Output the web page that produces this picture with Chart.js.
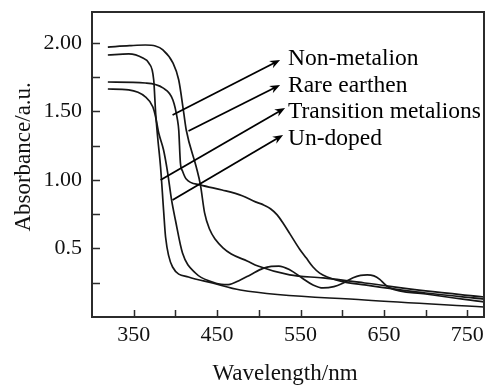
<!DOCTYPE html>
<html>
<head>
<meta charset="utf-8">
<script src="https://cdn.jsdelivr.net/npm/chart.js@4.4.0/dist/chart.umd.min.js"></script>
<style>
html, body { margin: 0; padding: 0; background: #fff; }
canvas { display: block; }
</style>
</head>
<body>
<canvas id="chartSpectre" width="489" height="385"></canvas>
<script>
// absorbance spectra (wavelength in nm, absorbance in a.u.)
var seriesNames = ["Non-metalion", "Rare earthen", "Transition metalions", "Un-doped"];

var nonMetalLambda = [319, 364, 385, 397, 402.5, 404, 406, 408.5, 413, 430, 456, 480, 496, 505, 514, 522, 529, 537.5, 549, 557, 565, 573, 582, 603, 627, 700, 770];
var nonMetalAbs = [1.715, 1.708, 1.672, 1.584, 1.438, 1.365, 1.124, 1.066, 1.007, 0.964, 0.927, 0.885, 0.84, 0.82, 0.79, 0.745, 0.686, 0.605, 0.495, 0.43, 0.365, 0.32, 0.292, 0.255, 0.234, 0.175, 0.131];

var rareLambda = [319, 345, 364, 376, 385, 397, 404, 410, 413, 425, 430, 435, 441, 448, 457, 467, 486, 499, 537, 577, 627, 700, 770];
var rareAbs = [1.97, 1.98, 1.985, 1.978, 1.95, 1.855, 1.73, 1.49, 1.365, 1.095, 0.964, 0.76, 0.64, 0.565, 0.505, 0.46, 0.409, 0.372, 0.307, 0.285, 0.248, 0.19, 0.146];

var transLambda = [319, 344, 361, 368, 374, 376.3, 378.7, 382.2, 385.8, 388.2, 396.6, 415.7, 444.3, 477.8, 627, 770];
var transAbs = [1.912, 1.92, 1.89, 1.854, 1.73, 1.489, 1.314, 1.095, 0.781, 0.584, 0.365, 0.292, 0.248, 0.197, 0.124, 0.073];

var undopedLambda = [319, 344, 364, 373, 376.3, 380, 385.8, 390.6, 395.4, 400, 408.5, 424, 444.3, 455, 463.4, 477.8, 489.7, 505, 515, 524, 537.5, 551.8, 565, 577, 590, 600, 613, 622, 630, 638, 645, 650, 656, 700, 770];
var undopedAbs = [1.664, 1.657, 1.606, 1.533, 1.46, 1.343, 1.219, 1.058, 0.854, 0.708, 0.467, 0.321, 0.255, 0.238, 0.236, 0.27, 0.307, 0.355, 0.37, 0.372, 0.343, 0.285, 0.234, 0.212, 0.222, 0.245, 0.287, 0.304, 0.308, 0.3, 0.275, 0.245, 0.215, 0.168, 0.11];

var xTickLabels = [350, 450, 550, 650, 750];
var yTickValues = [0.5, 1, 1.5, 2];
var yTickLabels = ["0.5", "1.00", "1.50", "2.00"];

// arrows from each curve to its name (data units)
var arrowFrom = [[396.6, 1.474], [415.7, 1.358], [382.2, 1.0], [396.6, 0.854]];
var arrowTo = [[525.5, 1.876], [525.5, 1.693], [531.5, 1.526], [529.1, 1.328]];
var nameX = 535;
var nameY = [1.839, 1.642, 1.453, 1.255];

var serif = '"Liberation Serif", "Times New Roman", serif';

function toPoints(xs, ys) {
    var pts = [];
    for (var i = 0; i < xs.length; i++) {
        pts.push({ x: xs[i], y: ys[i] });
    }
    return pts;
}

var boxAndTicks = {
    id: 'boxAndTicks',
    afterDatasetsDraw: function (chart) {
        var ctx = chart.ctx, a = chart.chartArea;
        var sx = chart.scales.x, sy = chart.scales.y;
        ctx.save();
        ctx.strokeStyle = '#2b2b2b';
        ctx.lineWidth = 2;
        ctx.strokeRect(a.left, a.top, a.right - a.left, a.bottom - a.top);
        ctx.lineWidth = 1.5;
        ctx.beginPath();
        sx.ticks.forEach(function (t) {
            var px = Math.round(sx.getPixelForValue(t.value)) + 0.5;
            if (px <= a.left + 2 || px >= a.right - 2) return;
            ctx.moveTo(px, a.bottom);
            ctx.lineTo(px, a.bottom - 7);
        });
        sy.ticks.forEach(function (t) {
            var py = Math.round(sy.getPixelForValue(t.value)) + 0.5;
            if (py <= a.top + 2 || py >= a.bottom - 2) return;
            ctx.moveTo(a.left, py);
            ctx.lineTo(a.left + 8, py);
        });
        ctx.stroke();

        // axis titles
        ctx.fillStyle = '#111';
        ctx.font = '23px ' + serif;
        ctx.textAlign = 'center';
        ctx.textBaseline = 'alphabetic';
        ctx.fillText('Wavelength/nm', (a.left + a.right) / 2 - 3, 380);
        ctx.translate(24, a.top + (a.bottom - a.top) * 0.475);
        ctx.rotate(-Math.PI / 2);
        ctx.textBaseline = 'middle';
        ctx.fillText('Absorbance/a.u.', 0, 0);
        ctx.restore();
    }
};

var arrowsAndNames = {
    id: 'arrowsAndNames',
    afterDatasetsDraw: function (chart) {
        var ctx = chart.ctx;
        var sx = chart.scales.x, sy = chart.scales.y;
        ctx.save();
        ctx.strokeStyle = '#000';
        ctx.fillStyle = '#000';
        ctx.lineWidth = 1.8;
        ctx.font = '23.5px ' + serif;
        ctx.textAlign = 'left';
        ctx.textBaseline = 'alphabetic';
        for (var i = 0; i < seriesNames.length; i++) {
            var x0 = sx.getPixelForValue(arrowFrom[i][0]), y0 = sy.getPixelForValue(arrowFrom[i][1]);
            var x1 = sx.getPixelForValue(arrowTo[i][0]), y1 = sy.getPixelForValue(arrowTo[i][1]);
            var ang = Math.atan2(y1 - y0, x1 - x0);
            ctx.beginPath();
            ctx.moveTo(x0, y0);
            ctx.lineTo(x1 - Math.cos(ang) * 5, y1 - Math.sin(ang) * 5);
            ctx.stroke();
            ctx.beginPath();
            ctx.moveTo(x1, y1);
            ctx.lineTo(x1 - 11 * Math.cos(ang - 0.38), y1 - 11 * Math.sin(ang - 0.38));
            ctx.lineTo(x1 - 7 * Math.cos(ang), y1 - 7 * Math.sin(ang));
            ctx.lineTo(x1 - 11 * Math.cos(ang + 0.38), y1 - 11 * Math.sin(ang + 0.38));
            ctx.closePath();
            ctx.fill();
            ctx.fillText(seriesNames[i], sx.getPixelForValue(nameX), sy.getPixelForValue(nameY[i]));
        }
        ctx.restore();
    }
};

var ctx = document.getElementById('chartSpectre').getContext('2d');
var chartSpectre = new Chart(ctx, {
    type: 'line',
    data: {
        datasets: [
            { label: seriesNames[0], data: toPoints(nonMetalLambda, nonMetalAbs) },
            { label: seriesNames[1], data: toPoints(rareLambda, rareAbs) },
            { label: seriesNames[2], data: toPoints(transLambda, transAbs) },
            { label: seriesNames[3], data: toPoints(undopedLambda, undopedAbs) }
        ]
    },
    options: {
        responsive: false,
        animation: false,
        devicePixelRatio: 1,
        layout: { padding: { top: 12, right: 5, left: 0, bottom: 0 } },
        plugins: {
            legend: { display: false },
            tooltip: { enabled: false }
        },
        elements: {
            point: { radius: 0 },
            line: { borderWidth: 1.7, borderColor: '#161616', fill: false, cubicInterpolationMode: 'monotone' }
        },
        scales: {
            x: {
                type: 'linear',
                min: 300,
                max: 770,
                afterFit: function (s) {
                    s.height = 68;
                    s.paddingLeft = 0;
                    s.paddingRight = 0;
                },
                grid: { display: false, drawTicks: false },
                border: { display: false },
                ticks: {
                    stepSize: 50,
                    includeBounds: false,
                    autoSkip: false,
                    maxRotation: 0,
                    padding: 5,
                    color: '#111',
                    font: { family: serif, size: 22 },
                    callback: function (v) {
                        return xTickLabels.indexOf(v) != -1 ? String(v) : '';
                    }
                }
            },
            y: {
                min: 0,
                max: 2.226,
                afterFit: function (s) {
                    s.width = 92;
                    s.paddingTop = 0;
                    s.paddingBottom = 0;
                },
                grid: { display: false, drawTicks: false },
                border: { display: false },
                ticks: {
                    stepSize: 0.25,
                    includeBounds: false,
                    autoSkip: false,
                    padding: 10,
                    color: '#111',
                    font: { family: serif, size: 22 },
                    callback: function (v) {
                        for (var i = 0; i < yTickValues.length; i++)
                            if (Math.abs(v - yTickValues[i]) < 1e-6) return yTickLabels[i];
                        return '';
                    }
                }
            }
        }
    },
    plugins: [boxAndTicks, arrowsAndNames]
});
</script>
</body>
</html>
